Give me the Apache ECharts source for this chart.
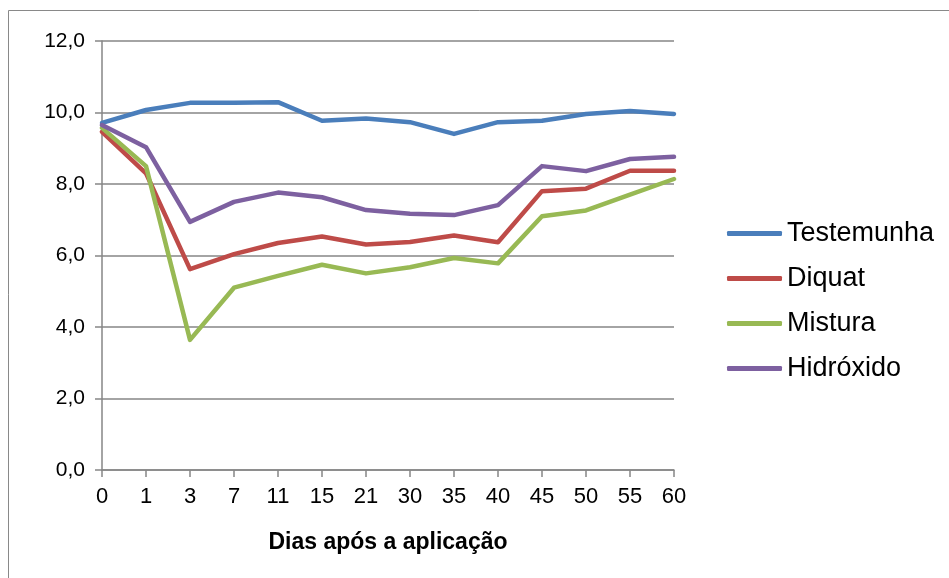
<!DOCTYPE html>
<html><head><meta charset="utf-8">
<script src="https://cdn.jsdelivr.net/npm/echarts@6/dist/echarts.min.js"></script>
<style>html,body{margin:0;padding:0;background:#fff}#c{width:949px;height:578px}</style>
</head><body><div id="c"></div>
<script>
var categories = ['0','1','3','7','11','15','21','30','35','40','45','50','55','60'];
var testemunha = [9.71,10.07,10.27,10.27,10.29,9.77,9.83,9.73,9.40,9.73,9.77,9.96,10.04,9.96];
var diquat     = [9.46,8.30,5.62,6.04,6.35,6.53,6.31,6.38,6.56,6.37,7.80,7.87,8.37,8.37];
var mistura    = [9.57,8.50,3.64,5.10,5.43,5.74,5.50,5.67,5.93,5.78,7.10,7.26,7.70,8.14];
var hidroxido  = [9.65,9.03,6.94,7.50,7.76,7.63,7.27,7.17,7.13,7.41,8.50,8.36,8.70,8.76];
var names = ['Testemunha','Diquat','Mistura','Hidróxido'];
var colors = ['#4a7ebb','#be4b48','#98b954','#7d60a0'];
var values = [testemunha, diquat, mistura, hidroxido];

var chart = echarts.init(document.getElementById('c'));
var font = '"Liberation Sans", Arial, sans-serif';
chart.setOption({
  animation: false,
  textStyle: {fontFamily: font},
  graphic: [{type:'rect', shape:{x:8.5,y:10.5,width:960,height:600}, style:{fill:'none', stroke:'#898989', lineWidth:1}}],
  grid: {left:102, right:275, top:41, bottom:108},
  legend: {
    orient:'vertical', left:727, top:220, padding:0, itemGap:18, itemWidth:55, itemHeight:5,
    icon:'roundRect',
    textStyle:{fontFamily:font, fontSize:27, color:'#000', padding:[0,0,0,0]},
    data: names
  },
  xAxis: {
    type:'category', data:categories, boundaryGap:false,
    name:'Dias após a aplicação', nameLocation:'middle', nameGap:61,
    nameTextStyle:{fontFamily:font, fontSize:23, fontWeight:'bold', color:'#000'},
    axisLine:{lineStyle:{color:'#868686', width:1.5}},
    axisTick:{alignWithLabel:true, length:7, lineStyle:{color:'#868686', width:1.5}},
    axisLabel:{fontFamily:font, fontSize:22, color:'#000', margin:16, interval:0}
  },
  yAxis: {
    type:'value', min:0, max:12, interval:2,
    axisLine:{show:true, lineStyle:{color:'#868686', width:1.5}},
    axisTick:{show:true, length:7, inside:false, lineStyle:{color:'#868686', width:1.5}},
    axisLabel:{fontFamily:font, fontSize:21, color:'#000', margin:17,
      formatter:function(v){return v.toFixed(1).replace('.',',');}},
    splitLine:{lineStyle:{color:'#868686', width:1.5}}
  },
  series: names.map(function(n,i){
    return {name:n, type:'line', data:values[i], symbol:'none', color:colors[i],
      lineStyle:{width:4.5, color:colors[i], join:'round', cap:'round'}};
  })
});
</script></body></html>
